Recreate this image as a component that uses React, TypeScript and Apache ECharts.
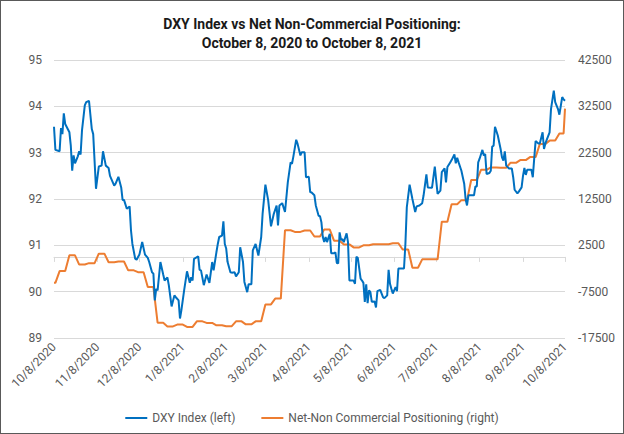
import React, { useEffect, useRef } from "react";
import * as echarts from "echarts";

// Calendar: 10/8/2020 .. 10/8/2021 (day offsets 0..365)
const START_UTC = Date.UTC(2020, 9, 8);
const DAY_COUNT = 366;

// DXY Index (left axis): day offset from 10/8/2020 and value
const dxyDay = [
  0, 1, 4, 5, 6, 7, 8, 11, 12, 13, 14, 15, 17, 18, 19, 20, 22, 23, 25, 27, 28, 30, 32, 34, 35, 37, 39, 40, 43, 44,
  46, 48, 49, 50, 52, 54, 55, 56, 58, 59, 61, 63, 65, 67, 68, 70, 71, 72, 73, 74, 76, 78, 79, 81, 82, 84, 86, 87, 89, 90,
  91, 93, 95, 97, 98, 99, 100, 103, 104, 105, 107, 109, 111, 113, 114, 116, 117, 118, 120, 121, 122, 123, 124, 126, 127, 129, 130, 132, 133, 135,
  136, 138, 139, 141, 142, 144, 146, 148, 149, 151, 153, 155, 157, 159, 160, 161, 163, 165, 167, 169, 170, 171, 173, 174, 176, 177, 179, 180, 182, 183,
  184, 186, 187, 189, 190, 191, 192, 193, 194, 195, 197, 198, 200, 201, 202, 203, 204, 205, 206, 207, 209, 210, 211, 213, 214, 215, 216, 217, 219, 220,
  221, 222, 223, 224, 225, 226, 227, 229, 230, 231, 233, 235, 236, 238, 239, 240, 241, 242, 244, 245, 246, 248, 250, 251, 252, 254, 256, 258, 259, 261,
  263, 264, 266, 267, 270, 272, 273, 274, 276, 277, 279, 280, 281, 283, 284, 286, 287, 288, 289, 291, 293, 294, 295, 296, 298, 300, 301, 302, 303, 304,
  306, 307, 308, 309, 311, 312, 313, 314, 315, 317, 319, 320, 321, 322, 323, 325, 327, 328, 329, 331, 332, 334, 335, 336, 337, 338, 339, 341, 342, 343,
  344, 346, 347, 349, 350, 351, 352, 354, 355, 357, 358, 360, 361, 363, 364, 365,
];
const dxyValue = [
  93.56, 93.06, 93.03, 93.53, 93.4, 93.85, 93.62, 93.44, 93.15, 92.61, 92.94, 92.77, 92.92, 93.03, 92.96, 93.48, 94.02, 94.09, 94.12, 93.51, 93.4, 92.22, 92.7, 92.72, 93.03, 92.72, 92.67, 92.5, 92.29, 92.33,
  92.48, 92.25, 91.98, 91.98, 91.79, 91.84, 91.32, 91.03, 90.71, 90.69, 90.8, 91.07, 90.8, 90.73, 90.64, 90.42, 90.39, 89.81, 90.06, 90.03, 90.64, 90.37, 90.24, 90.31, 90.14, 89.68, 89.92, 89.88, 89.81, 89.42,
  89.6, 90.04, 90.44, 90.19, 90.31, 90.24, 90.71, 90.76, 90.47, 90.46, 90.14, 90.37, 90.19, 90.64, 90.46, 90.85, 91.03, 91.18, 91.21, 91.52, 91.03, 90.93, 90.64, 90.42, 90.41, 90.42, 90.33, 90.42, 90.96, 90.64,
  90.21, 89.99, 90.16, 90.16, 90.89, 91.03, 90.78, 91.18, 91.68, 92.31, 91.97, 91.41, 91.68, 91.86, 91.43, 91.86, 91.91, 91.72, 92.36, 92.79, 92.76, 92.92, 93.28, 93.19, 92.94, 93.01, 93.01, 92.47, 92.48, 92.15,
  92.14, 92.08, 91.86, 91.64, 91.63, 91.5, 91.18, 91.07, 91.18, 91.07, 91.25, 90.83, 90.83, 90.85, 90.62, 90.61, 91.28, 91.12, 91.13, 91.07, 91.26, 91.07, 90.24, 90.24, 90.24, 90.17, 90.75, 90.73, 90.28, 90.24,
  90.19, 89.78, 90.16, 89.75, 90.03, 89.99, 89.78, 89.79, 89.66, 90.01, 90.04, 89.88, 89.86, 89.92, 90.47, 90.17, 90.06, 89.96, 90.1, 90.01, 90.5, 90.5, 90.5, 91.03, 91.82, 92.31, 92.0, 91.72, 91.84, 91.86,
  91.91, 92.08, 92.53, 92.25, 92.24, 92.7, 92.4, 92.11, 92.18, 92.58, 92.66, 92.36, 92.69, 92.79, 92.84, 92.96, 92.77, 92.89, 92.79, 92.61, 92.33, 92.0, 91.86, 92.08, 92.08, 92.08, 92.27, 92.27, 92.79, 92.87,
  93.06, 92.94, 92.97, 92.54, 92.56, 92.61, 93.13, 93.15, 93.56, 93.37, 93.08, 92.9, 92.83, 93.03, 92.72, 92.66, 92.66, 92.47, 92.2, 92.12, 92.16, 92.25, 92.5, 92.67, 92.52, 92.63, 92.63, 92.63, 92.47, 92.87,
  93.25, 93.2, 93.2, 93.44, 93.08, 93.2, 93.28, 93.44, 93.94, 94.34, 94.09, 93.94, 93.82, 94.2, 94.15, 94.12,
];

// Net non-commercial positioning (right axis): day each weekly reading takes effect, and its value
const cotStartDay = [
  0, 4, 11, 18, 25, 32, 39, 46, 53, 60, 67, 74, 81, 88, 95, 102, 109, 116, 123, 130, 137, 144, 151, 158, 165, 172, 179,
  186, 193, 200, 207, 214, 221, 228, 235, 242, 249, 256, 263, 270, 277, 284, 291, 298, 305, 312, 319, 326, 333, 340, 347, 354, 361, 365,
];
const cotValue = [
  -5600, -3050, 340, -1650, -1350, 700, -1150, -1000, -2900, -3300, -6500, -14200, -15000, -14600, -15100, -13900, -14250, -14750, -14950, -13900, -14550, -13900, -10250, -9000, 5750, 5400, 5700,
  4400, 5900, 3500, 2700, 2050, 2500, 2750, 2750, 2950, 1600, -2350, -520, -520, 7600, 11350, 12250, 16600, 18800, 19300, 19250, 20300, 20900, 21550, 24350, 25100, 26650, 32000,
];

const leftMin = 89;
const leftMax = 95;
const leftStep = 1;
const rightMin = -17500;
const rightMax = 42500;
const rightStep = 10000;

const titleLines = ["DXY Index vs Net Non-Commercial Positioning:", "October 8, 2020 to October 8, 2021"];
const seriesNames = ["DXY Index (left)", "Net-Non Commercial Positioning (right)"];
const seriesColors = ["#0070C0", "#ED7D31"];

function buildCategories(): string[] {
  const out: string[] = [];
  for (let i = 0; i < DAY_COUNT; i++) {
    const d = new Date(START_UTC + i * 86400000);
    out.push(`${d.getUTCMonth() + 1}/${d.getUTCDate()}/${d.getUTCFullYear()}`);
  }
  return out;
}

function buildCot(): [number, number][] {
  const pts: [number, number][] = [];
  for (let k = 0; k < cotStartDay.length; k++) {
    const s = cotStartDay[k];
    pts.push([s, cotValue[k]]);
    if (k + 1 < cotStartDay.length) {
      const next = cotStartDay[k + 1];
      const end = next - (next - s >= 7 || k === 0 ? 3 : 1);
      if (end > s) pts.push([end, cotValue[k]]);
    }
  }
  return pts;
}

const FONT = "Roboto, 'Noto Sans', sans-serif";

export default function App() {
  const ref = useRef<HTMLDivElement>(null);

  useEffect(() => {
    document.body.style.margin = "0";
    if (!ref.current) return;
    const chart = echarts.init(ref.current, undefined, { renderer: "svg" });
    const categories = buildCategories();
    const isTickDay = (_idx: number, value: string) => value.split("/")[1] === "8";

    chart.setOption({
      animation: false,
      backgroundColor: "#ffffff",
      title: {
        text: titleLines.join("\n"),
        left: "center",
        top: 9,
        textStyle: {
          fontFamily: FONT,
          fontSize: 14,
          fontWeight: "bold",
          color: "#1a1a1a",
          lineHeight: 19,
        },
      },
      grid: { left: 54, right: 59, top: 60, bottom: 96, containLabel: false },
      legend: {
        data: seriesNames,
        left: "center",
        top: 407,
        icon: "rect",
        itemWidth: 22,
        itemHeight: 2,
        itemGap: 26,
        textStyle: { fontFamily: FONT, fontSize: 12, color: "#595959" },
      },
      xAxis: {
        type: "category",
        data: categories,
        boundaryGap: false,
        axisLine: { lineStyle: { color: "#d9d9d9", width: 1 } },
        axisTick: { show: true, interval: isTickDay, length: 5, lineStyle: { color: "#d9d9d9" } },
        axisLabel: {
          interval: isTickDay,
          rotate: 45,
          margin: 7,
          fontFamily: FONT,
          fontSize: 12,
          color: "#595959",
        },
        splitLine: { show: false },
      },
      yAxis: [
        {
          type: "value",
          min: leftMin,
          max: leftMax,
          interval: leftStep,
          position: "left",
          axisLine: { show: false },
          axisTick: { show: false },
          axisLabel: { fontFamily: FONT, fontSize: 12, color: "#595959", margin: 12 },
          splitLine: { show: true, lineStyle: { color: "#d9d9d9", width: 1 } },
        },
        {
          type: "value",
          min: rightMin,
          max: rightMax,
          interval: rightStep,
          position: "right",
          axisLine: { show: false },
          axisTick: { show: false },
          axisLabel: {
            fontFamily: FONT,
            fontSize: 12,
            color: "#595959",
            margin: 13,
            formatter: (v: number) => String(v),
          },
          splitLine: { show: false },
        },
      ],
      series: [
        {
          name: seriesNames[0],
          type: "line",
          yAxisIndex: 0,
          data: dxyDay.map((d, i) => [d, dxyValue[i]]),
          symbol: "none",
          lineStyle: { color: seriesColors[0], width: 2 },
          itemStyle: { color: seriesColors[0] },
          z: 3,
        },
        {
          name: seriesNames[1],
          type: "line",
          yAxisIndex: 1,
          data: buildCot(),
          symbol: "none",
          lineStyle: { color: seriesColors[1], width: 2 },
          itemStyle: { color: seriesColors[1] },
          z: 2,
        },
      ],
    });
    return () => chart.dispose();
  }, []);

  return (
    <div style={{ position: "relative", width: 624, height: 434, background: "#fff" }}>
      <div ref={ref} style={{ position: "absolute", left: 0, top: 0, width: 624, height: 434 }} />
      <div
        style={{
          position: "absolute",
          left: 0,
          top: 0,
          width: 624,
          height: 434,
          boxSizing: "border-box",
          border: "1px solid #595959",
          pointerEvents: "none",
        }}
      />
    </div>
  );
}
